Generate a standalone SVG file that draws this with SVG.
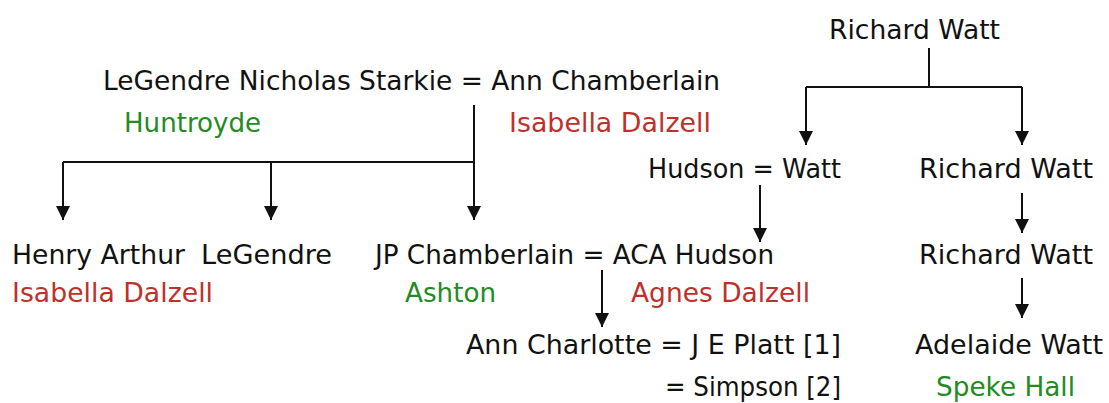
<svg xmlns="http://www.w3.org/2000/svg" width="1109" height="403" viewBox="0 0 1109 403">
<style>
text{font-family:"DejaVu Sans",sans-serif;font-size:27px;fill:#111}
.g{fill:#228B22}
.r{fill:#C0302A}
.c{fill:none;stroke:#111;stroke-width:2}
</style>
<defs>
<marker id="ah" viewBox="0 -7 14 14" refX="14" refY="0" markerWidth="14" markerHeight="14" markerUnits="userSpaceOnUse" orient="auto">
<path d="M0,-7 L14,0 L0,7 z" fill="#111"/>
</marker>
</defs>
<rect width="1109" height="403" fill="#fff"/>
<g id="connectors">
<path class="c" d="M474 105 V220" marker-end="url(#ah)"/>
<path class="c" d="M63 162 H474"/>
<path class="c" d="M63 162 V220" marker-end="url(#ah)"/>
<path class="c" d="M271 162 V220" marker-end="url(#ah)"/>
<path class="c" d="M929 48 V87"/>
<path class="c" d="M806 87 H1022"/>
<path class="c" d="M806 87 V145" marker-end="url(#ah)"/>
<path class="c" d="M1022 87 V145" marker-end="url(#ah)"/>
<path class="c" d="M760 185 V242" marker-end="url(#ah)"/>
<path class="c" d="M602 270 V327" marker-end="url(#ah)"/>
<path class="c" d="M1022 193 V233" marker-end="url(#ah)"/>
<path class="c" d="M1022 278 V318" marker-end="url(#ah)"/>
</g>
<g id="n-richard-watt-1"><text x="829" y="39" textLength="171" lengthAdjust="spacingAndGlyphs">Richard Watt</text></g>
<g id="n-starkie"><text x="103" y="90" textLength="617" lengthAdjust="spacingAndGlyphs">LeGendre Nicholas Starkie = Ann Chamberlain</text>
<text class="g" x="124" y="132" textLength="137" lengthAdjust="spacingAndGlyphs">Huntroyde</text>
<text class="r" x="509" y="132" textLength="202" lengthAdjust="spacingAndGlyphs">Isabella Dalzell</text></g>
<g id="n-hudson-watt"><text x="648" y="178" textLength="193" lengthAdjust="spacingAndGlyphs">Hudson = Watt</text></g>
<g id="n-richard-watt-2"><text x="919" y="178" textLength="174" lengthAdjust="spacingAndGlyphs">Richard Watt</text></g>
<g id="n-henry-arthur"><text x="12" y="264" textLength="173" lengthAdjust="spacingAndGlyphs">Henry Arthur</text>
<text class="r" x="12" y="302" textLength="201" lengthAdjust="spacingAndGlyphs">Isabella Dalzell</text></g>
<g id="n-legendre"><text x="201" y="264" textLength="131" lengthAdjust="spacingAndGlyphs">LeGendre</text></g>
<g id="n-jp-chamberlain"><text x="375" y="264" textLength="399" lengthAdjust="spacingAndGlyphs">JP Chamberlain = ACA Hudson</text>
<text class="g" x="405" y="302" textLength="91" lengthAdjust="spacingAndGlyphs">Ashton</text>
<text class="r" x="631" y="302" textLength="179" lengthAdjust="spacingAndGlyphs">Agnes Dalzell</text></g>
<g id="n-richard-watt-3"><text x="919" y="264" textLength="174" lengthAdjust="spacingAndGlyphs">Richard Watt</text></g>
<g id="n-ann-charlotte"><text x="466" y="354" textLength="375" lengthAdjust="spacingAndGlyphs">Ann Charlotte = J E Platt [1]</text>
<text x="665" y="396" textLength="176" lengthAdjust="spacingAndGlyphs">= Simpson [2]</text></g>
<g id="n-adelaide-watt"><text x="915" y="354" textLength="188" lengthAdjust="spacingAndGlyphs">Adelaide Watt</text>
<text class="g" x="936" y="396" textLength="139" lengthAdjust="spacingAndGlyphs">Speke Hall</text></g>
</svg>
